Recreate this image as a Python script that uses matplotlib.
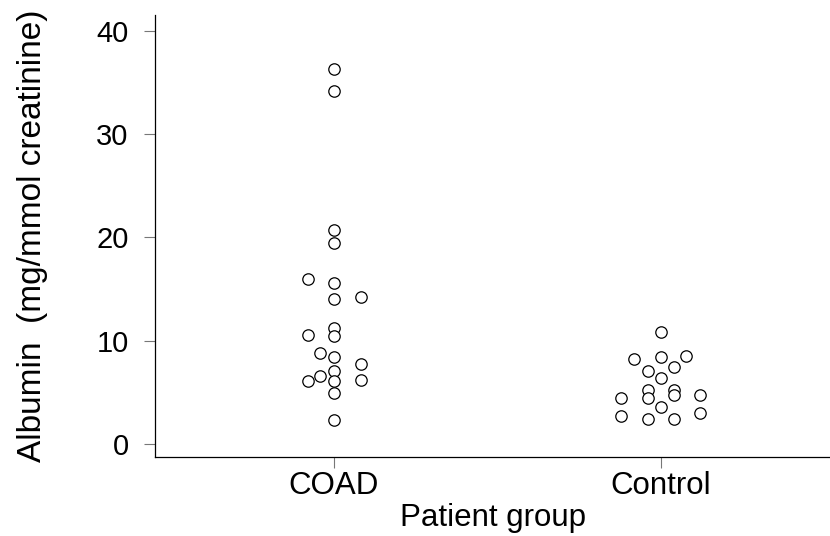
import matplotlib
matplotlib.use("Agg")
import matplotlib.pyplot as plt
import numpy as np

plt.rcParams['font.family'] = ['Liberation Sans', 'DejaVu Sans']

groups = ['COAD', 'Control']

# albumin values, with the sideways jitter of each dot
coad_vals = [36.3, 34.1, 20.7, 19.4, 16.0, 15.6, 14.0, 14.2, 11.2, 10.4, 10.5,
             8.8, 8.45, 7.1, 7.7, 6.6, 6.1, 6.1, 6.2, 4.9, 2.3]
coad_jit = [0, 0, 0, 0, -0.08, 0, 0, 0.083, 0, 0, -0.08,
            -0.043, 0, 0, 0.083, -0.043, 0, -0.08, 0.083, 0, 0]

ctrl_vals = [10.8, 8.2, 8.45, 8.55, 7.07, 7.4, 6.4, 5.2, 4.4, 5.2, 4.7,
             4.45, 4.7, 3.6, 2.7, 2.45, 2.45, 3.0]
ctrl_jit = [0, -0.083, 0, 0.077, -0.04, 0.04, 0, -0.04, -0.04, 0.04, 0.04,
            -0.123, 0.118, 0, -0.123, -0.04, 0.04, 0.118]

yticks = [0, 10, 20, 30, 40]

fig = plt.figure(figsize=(8.3, 5.36), dpi=100)
ax = fig.add_axes([155/830, 1 - 457.3/536, 1 - 155/830, (457.3 - 15)/536])

for i, (vals, jit) in enumerate([(coad_vals, coad_jit), (ctrl_vals, ctrl_jit)]):
    x = (i + 1) + np.array(jit)
    ax.plot(x, vals, linestyle='none', marker='o', markersize=8.2,
            markerfacecolor='white', markeredgecolor='black', markeredgewidth=0.9)

ax.set_xlim(0.4526, 2.517)
ax.set_ylim(-1.29, 41.5)
ax.set_xticks([1, 2])
ax.set_xticklabels(groups, fontsize=22.5)
ax.set_yticks(yticks)

for s in ['top', 'right']:
    ax.spines[s].set_visible(False)
for s in ['left', 'bottom']:
    ax.spines[s].set_linewidth(0.9)
    ax.spines[s].set_color('black')

ax.tick_params(axis='both', length=8, width=0.8, color='#777777')
ax.tick_params(axis='y', pad=11, labelsize=21)
ax.tick_params(axis='x', pad=2)

ax.set_xlabel('Patient group', fontsize=22.5, labelpad=1)
ax.set_ylabel('Albumin  (mg/mmol creatinine)', fontsize=24, labelpad=35)

fig.savefig('out.png', dpi=100)
